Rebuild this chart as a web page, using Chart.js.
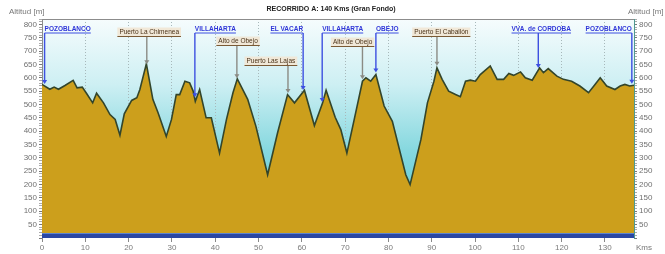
<!DOCTYPE html>
<html><head><meta charset="utf-8">
<script src="https://cdn.jsdelivr.net/npm/chart.js@4/dist/chart.umd.min.js"></script>
<style>html,body{margin:0;padding:0;background:#fff}canvas{display:block}</style>
</head><body>
<canvas id="c" width="665" height="254"></canvas>
<script>
// ---------- DATA ----------
const kms = [0,1.8,2.8,3.8,5.3,7.2,8.1,9.3,10.3,11.7,12.6,14.2,15.7,16.9,18.0,19.0,20.7,21.9,22.6,24.1,25.6,26.8,28.7,29.9,31.0,31.8,33.0,34.1,34.9,35.4,36.4,37.9,39.1,41.0,42.6,44.1,45.1,47.5,49.4,52.1,54.4,56.7,58.3,60.6,62.9,64.8,65.6,67.7,69.0,70.4,72.1,74.0,74.8,75.9,77.1,79.0,80.9,84.0,85.0,87.5,89.0,90.5,91.2,92.4,93.9,95.5,96.6,97.8,98.9,100.1,101.2,103.5,105.1,106.6,107.8,108.9,110.5,111.6,113.2,114.9,115.8,116.9,118.9,120.4,122.3,124.2,126.2,127.7,128.9,130.4,132.3,133.5,134.6,135.7,136.7];
const altitudes = [575,557,565,557,571,590,562,565,541,506,542,506,462,444,385,465,515,525,556,652,519,469,380,444,537,537,587,581,550,512,556,450,450,318,444,544,596,519,418,237,394,537,506,553,421,506,553,452,406,318,444,587,600,587,612,494,437,237,200,369,506,587,637,594,550,537,529,587,591,587,612,644,594,594,616,609,622,600,591,637,619,634,606,594,587,569,544,575,600,569,556,569,575,569,572];
const xTickValues = [0,10,20,30,40,50,60,70,80,90,100,110,120,130];
const yTickLabels = [50,100,150,200,250,300,350,400,450,500,550,600,650,700,750,800];
const townNames = ['POZOBLANCO','VILLAHARTA','EL VACAR','VILLAHARTA','OBEJO','VVA. de CORDOBA','POZOBLANCO'];
const townKms = [0.6,35.3,60.3,64.7,77.1,114.6,136.2];
const passNames = ['Puerto La Chimenea','Alto de Obejo','Puerto Las Lajas','Alto de Obejo','Puerto El Caballón'];
const passKms = [24.2,45.0,56.8,74.0,91.2];
const titleText = 'RECORRIDO A: 140 Kms (Gran Fondo)';
const yAxisTitle = 'Altitud [m]';
const xAxisUnit = 'Kms';

// ---------- LAYOUT / STYLE ----------
const townAnchor = [0,0,1,0,0,0.45,1];
const townRowY = [29,29,29,29,29,29,29];
const passAnchor = [0.46,0.47,0.85,0.75,0.42];
const passRowY = [32,41,61,42,32];
const FONT = "'Liberation Sans', Arial, sans-serif";

function altAt(k){
  for(let i=0;i<kms.length-1;i++){
    if(k>=kms[i] && k<=kms[i+1]){
      const t=(k-kms[i])/(kms[i+1]-kms[i]);
      return altitudes[i]+t*(altitudes[i+1]-altitudes[i]);
    }
  }
  return altitudes[altitudes.length-1];
}

function arrow(ctx,x,y0,y1,color){
  ctx.strokeStyle=color; ctx.lineWidth=1.4;
  ctx.beginPath(); ctx.moveTo(x,y0); ctx.lineTo(x,y1-3); ctx.stroke();
  ctx.fillStyle=color;
  ctx.beginPath(); ctx.moveTo(x-2.5,y1-4); ctx.lineTo(x+2.5,y1-4); ctx.lineTo(x,y1); ctx.closePath(); ctx.fill();
}

const decor = {
  id:'decor',
  beforeDraw(chart){
    const {ctx, chartArea:a} = chart;
    const g = ctx.createLinearGradient(0,a.top,0,a.bottom);
    g.addColorStop(0,'#f6fcfd');
    g.addColorStop(0.3,'#cdeff3');
    g.addColorStop(0.6,'#86d8df');
    g.addColorStop(1,'#4cc4cf');
    ctx.save(); ctx.fillStyle=g; ctx.fillRect(a.left,a.top,a.right-a.left,a.bottom-a.top); ctx.restore();
  },
  afterDatasetsDraw(chart){
    const {ctx, chartArea:a, scales} = chart;
    const xs=scales.x, ys=scales.y;
    ctx.save();
    // ground band
    ctx.fillStyle='#2a47a3'; ctx.fillRect(a.left,a.bottom-5,a.right-a.left,5);
    ctx.fillStyle='#5b83d0'; ctx.fillRect(a.left,a.bottom-5,a.right-a.left,1);
    // frame
    ctx.strokeStyle='#8c8c8c'; ctx.lineWidth=1;
    ctx.beginPath(); ctx.moveTo(a.left,a.top+0.5); ctx.lineTo(a.right,a.top+0.5); ctx.stroke();
    // passes
    ctx.font='6.5px '+FONT; ctx.textBaseline='middle';
    passNames.forEach((n,i)=>{
      const x=xs.getPixelForValue(passKms[i]);
      const tip=ys.getPixelForValue(altAt(passKms[i]))-2;
      const w=ctx.measureText(n).width;
      const lx=x-passAnchor[i]*w, ry=passRowY[i];
      ctx.fillStyle='rgba(240,231,214,0.95)';
      ctx.fillRect(lx-2,ry-4.5,w+4,9);
      ctx.strokeStyle='#7a5a35'; ctx.lineWidth=1;
      ctx.beginPath(); ctx.moveTo(lx-2,ry+4.5); ctx.lineTo(lx+w+2,ry+4.5); ctx.stroke();
      ctx.fillStyle='#4a3218'; ctx.textAlign='left';
      ctx.fillText(n,lx,ry);
      arrow(ctx,x,ry+5,tip,'#8b8b84');
    });
    // towns
    ctx.font='bold 6.5px '+FONT;
    townNames.forEach((n,i)=>{
      const x=xs.getPixelForValue(townKms[i]);
      const tip=ys.getPixelForValue(altAt(townKms[i]))-2;
      const w=ctx.measureText(n).width;
      const lx=x-townAnchor[i]*w, ry=townRowY[i];
      ctx.fillStyle='#2f36d8'; ctx.textAlign='left';
      ctx.fillText(n,lx,ry);
      ctx.strokeStyle='#3d4fe0'; ctx.lineWidth=1;
      ctx.beginPath(); ctx.moveTo(lx,ry+4); ctx.lineTo(lx+w,ry+4); ctx.stroke();
      arrow(ctx,x,ry+4,tip,'#3d4fe0');
    });
    ctx.restore();
  },
  afterDraw(chart){
    const {ctx, chartArea:a} = chart;
    ctx.save();
    ctx.fillStyle='#222'; ctx.font='bold 7px '+FONT; ctx.textAlign='center'; ctx.textBaseline='middle';
    ctx.fillText(titleText,331,9);
    ctx.fillStyle='#777'; ctx.font='8px '+FONT; ctx.textAlign='left';
    ctx.fillText(yAxisTitle,9,12);
    ctx.fillText(yAxisTitle,628,12);
    ctx.fillText(xAxisUnit,636,248);
    ctx.restore();
  }
};

const yTicksAll = [];
for (let v=0; v<=820; v+=10) yTicksAll.push(v);

function yAxis(pos){
  return {
    type:'linear', position:pos, min:0, max:820,
    afterBuildTicks(s){ s.ticks = yTicksAll.map(v=>({value:v})); },
    afterFit(s){ s.width = pos==='left'?42:31; },
    ticks:{ autoSkip:false, padding:2, color:'#707070', font:{size:8, family:FONT},
      callback:(v)=> yTickLabels.includes(v)? String(v):'' },
    grid:{ drawOnChartArea:false, tickLength:3,
      tickColor:(c)=> (c.tick && c.tick.value%50===0)?'#777':'#aaa' },
    border:{ color: pos==='left'?'#8c8c8c':'#4f9a92', width:1 }
  };
}

new Chart(document.getElementById('c'), {
  type:'line',
  data:{ datasets:[{
    data: kms.map((k,i)=>({x:k,y:altitudes[i]})),
    borderColor:'#33452b', borderWidth:1.6, backgroundColor:'#cc9f1c',
    fill:'origin', pointRadius:0, tension:0
  }]},
  options:{
    responsive:false, animation:false, devicePixelRatio:1,
    layout:{ padding:{ top:19, left:0, right:0, bottom:0 } },
    plugins:{ legend:{display:false}, tooltip:{enabled:false} },
    scales:{
      x:{ type:'linear', min:0, max:136.7,
        afterBuildTicks(s){ s.ticks = xTickValues.map(v=>({value:v})); },
        afterFit(s){ s.height = 16; },
        ticks:{ autoSkip:false, maxRotation:0, padding:1, color:'#7a7a7a', font:{size:8, family:FONT} },
        grid:{ color:'#a7b8ba', lineWidth:1, tickLength:4, tickColor:'#888' },
        border:{ display:false, dash:[1,2] }
      },
      y: yAxis('left'),
      y2: yAxis('right')
    }
  },
  plugins:[decor]
});
</script>
</body></html>
